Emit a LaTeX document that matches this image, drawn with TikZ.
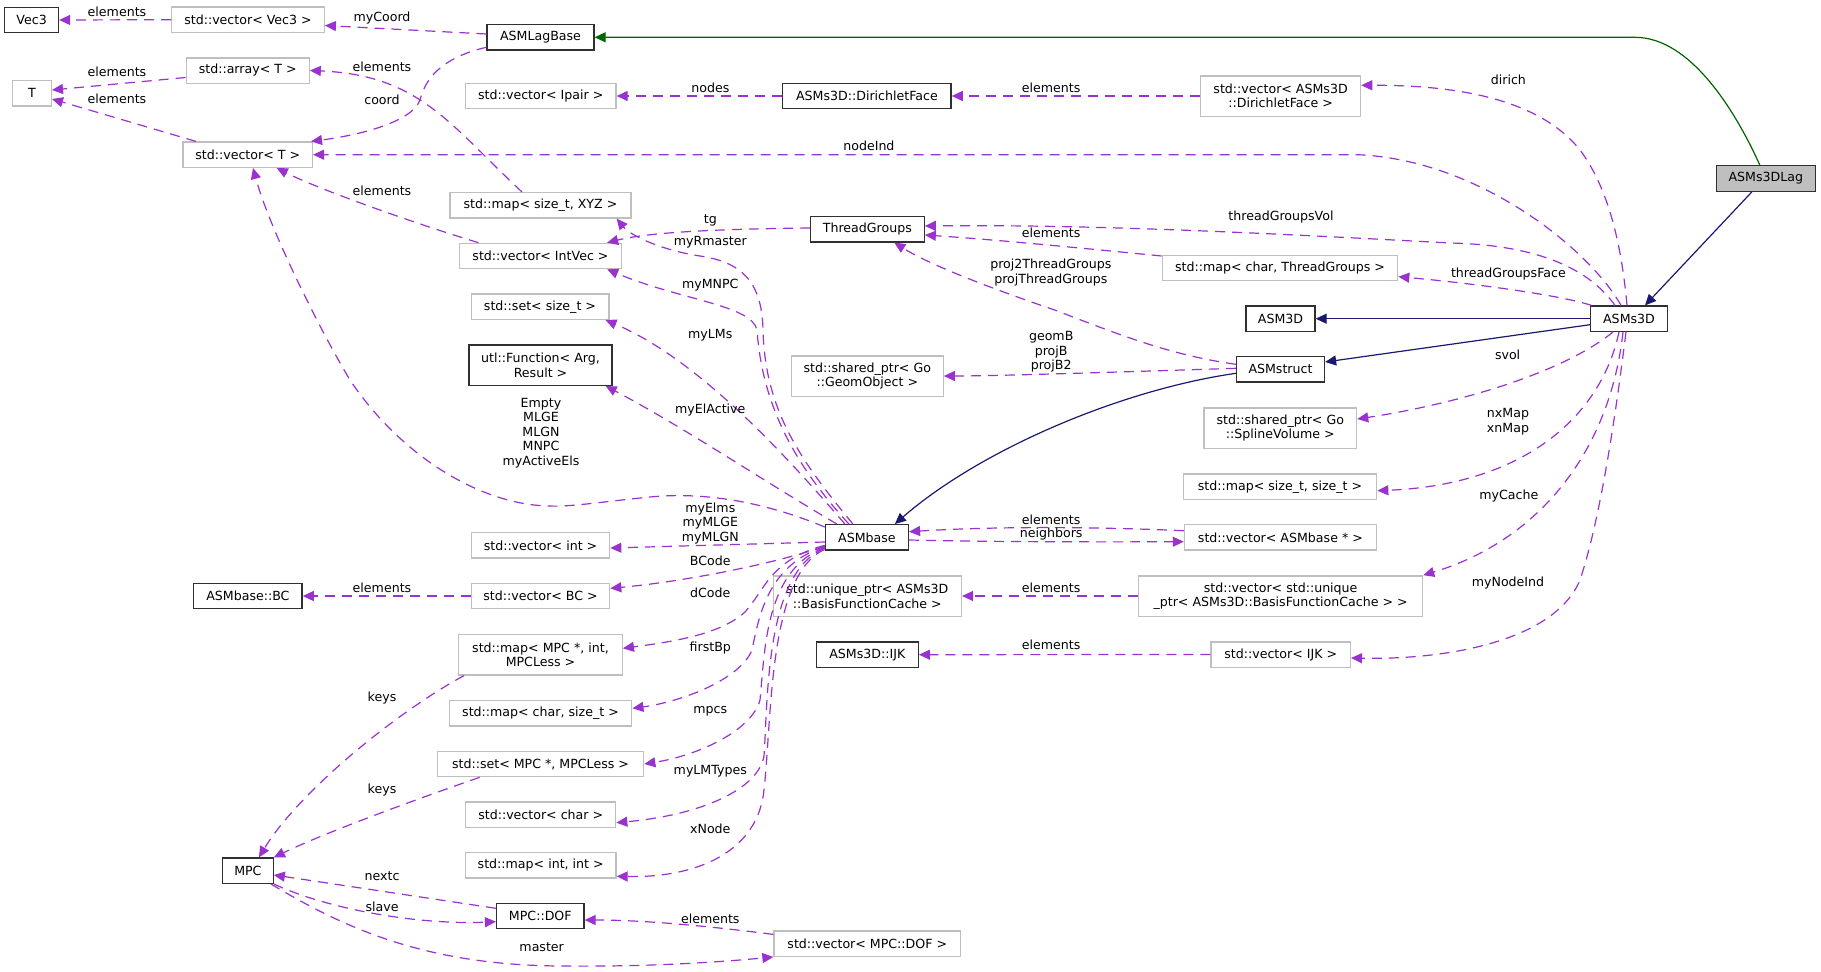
\documentclass[tikz,border=0pt]{standalone}
\usepackage{fontspec}
\setmainfont{DejaVu Sans}
\usetikzlibrary{arrows.meta}
\definecolor{purp}{HTML}{9A32CD}
\definecolor{navyc}{HTML}{191970}
\definecolor{greenc}{HTML}{006400}
\definecolor{gry}{HTML}{BFBFBF}
\definecolor{bord}{HTML}{303030}
\begin{document}
\begin{tikzpicture}[x=1pt,y=-1pt,
  every node/.style={font=\fontsize{12.6pt}{14.6pt}\selectfont, inner sep=0pt, align=center},
  bb/.style={draw=bord, line width=1.3pt, minimum height=25.3pt, fill=white},
  gb/.style={draw=gry, line width=1.3pt, minimum height=25.3pt, fill=white},
  tall/.style={minimum height=40.3pt},
  tip/.style={-{Triangle[length=11pt,width=10pt]}},
  dep/.style={draw=purp, line width=1.2pt, dash pattern=on 10pt off 7pt, tip, fill=none},
  inh/.style={draw=navyc, line width=1.2pt, tip},
  ginh/.style={draw=greenc, line width=1.2pt, tip},
  lbl/.style={}
]
\fill[white] (0,0) rectangle (1821,972);
\useasboundingbox (0,0) rectangle (1821,972);

% ---------------- nodes ----------------
\node[bb, minimum width=53.8pt] (Vec3) at (31.6,20) {Vec3};
\node[gb, minimum width=152.6pt] (vecVec3) at (248,19.7) {std::vector< Vec3 >};
\node[bb, minimum width=107pt] (ASMLagBase) at (540.5,37.3) {ASMLagBase};
\node[gb, minimum width=123pt] (array) at (247.7,70.5) {std::array< T >};
\node[gb, minimum width=38.7pt] (T) at (32,93.3) {T};
\node[gb, minimum width=129.4pt] (vecT) at (247.7,154.7) {std::vector< T >};
\node[gb, minimum width=150.6pt] (vecIpair) at (540.7,96) {std::vector< Ipair >};
\node[bb, minimum width=168.4pt] (DirichletFace) at (866.9,96) {ASMs3D::DirichletFace};
\node[gb, tall, minimum width=160pt] (vecDF) at (1280.6,96) {std::vector< ASMs3D\\::DirichletFace >};
\node[gb, minimum width=181pt] (mapXYZ) at (540.5,205.3) {std::map< size\_t, XYZ >};
\node[bb, minimum width=113.8pt] (ThreadGroups) at (867.3,229.3) {ThreadGroups};
\node[gb, minimum width=162pt] (vecIntVec) at (540.5,256) {std::vector< IntVec >};
\node[gb, minimum width=235.4pt] (mapCharTG) at (1280,268) {std::map< char, ThreadGroups >};
\node[draw=bord, line width=1.3pt, fill=gry, minimum height=25.6pt, minimum width=99pt] (ASMs3DLag) at (1765.8,178.5) {ASMs3DLag};
\node[gb, minimum width=137.7pt] (setSizeT) at (540,306.7) {std::set< size\_t >};
\node[bb, minimum width=69pt] (ASM3D) at (1280.5,318.7) {ASM3D};
\node[bb, minimum width=76.7pt] (ASMs3D) at (1629,318.7) {ASMs3D};
\node[bb, tall, minimum width=143pt] (utlFunction) at (540.5,365.2) {utl::Function< Arg,\\Result >};
\node[gb, tall, minimum width=151.8pt] (GeomObject) at (867.3,376) {std::shared\_ptr< Go\\::GeomObject >};
\node[bb, minimum width=88pt] (ASMstruct) at (1280.5,369.3) {ASMstruct};
\node[gb, tall, minimum width=152.6pt] (spline) at (1280.3,428) {std::shared\_ptr< Go\\::SplineVolume >};
\node[gb, minimum width=193.4pt] (mapSizeSize) at (1280,486.7) {std::map< size\_t, size\_t >};
\node[bb, minimum width=83pt] (ASMbase) at (866.9,537.3) {ASMbase};
\node[gb, minimum width=138.4pt] (vecInt) at (540.5,545.3) {std::vector< int >};
\node[gb, minimum width=192pt] (vecASMbase) at (1280.4,537.3) {std::vector< ASMbase * >};
\node[bb, minimum width=108.4pt] (ASMbaseBC) at (247.9,596) {ASMbase::BC};
\node[gb, minimum width=138.4pt] (vecBC) at (540.5,596) {std::vector< BC >};
\node[gb, tall, minimum width=188.2pt] (uniqueBFC) at (867.3,596) {std::unique\_ptr< ASMs3D\\::BasisFunctionCache >};
\node[gb, tall, minimum width=284pt] (vecBFC) at (1280.6,596) {std::vector< std::unique\\\_ptr< ASMs3D::BasisFunctionCache > >};
\node[gb, tall, minimum width=163.6pt] (mapMPC) at (540.5,654.8) {std::map< MPC *, int,\\MPCLess >};
\node[bb, minimum width=102pt] (IJK) at (867.3,654.7) {ASMs3D::IJK};
\node[gb, minimum width=139.3pt] (vecIJK) at (1280.7,654.5) {std::vector< IJK >};
\node[gb, minimum width=182.6pt] (mapCharSize) at (540.5,713.3) {std::map< char, size\_t >};
\node[gb, minimum width=206.4pt] (setMPC) at (540.5,764) {std::set< MPC *, MPCLess >};
\node[gb, minimum width=150pt] (vecChar) at (540.7,814.7) {std::vector< char >};
\node[gb, minimum width=150.6pt] (mapIntInt) at (540.7,865.3) {std::map< int, int >};
\node[bb, minimum width=50.6pt] (MPC) at (247.9,870.7) {MPC};
\node[bb, minimum width=87.4pt] (MPCDOF) at (540.3,916) {MPC::DOF};
\node[gb, minimum width=186.6pt] (vecDOF) at (867.3,943.7) {std::vector< MPC::DOF >};

% ---------------- inheritance ----------------
\draw[ginh] ([xshift=-6pt]ASMs3DLag.north) .. controls (1735,110) and (1690,37.3) .. (1635,37.3) -- (ASMLagBase.east);
\draw[inh] ([xshift=-14pt]ASMs3DLag.south) -- ([xshift=16pt]ASMs3D.north);
\draw[inh] (ASMs3D.west) -- (ASM3D.east);
\draw[inh] ([yshift=-6pt]ASMs3D.west) -- ([yshift=7.3pt]ASMstruct.east);
\draw[inh] ([yshift=-4pt]ASMstruct.west) .. controls (1120,390) and (980,450) .. ([xshift=28pt]ASMbase.north);

% ---------------- usage edges ----------------
\draw[dep] (vecVec3.west) -- (Vec3.east);
\draw[dep] ([yshift=3.3pt]ASMLagBase.west) -- ([yshift=-5.8pt]vecVec3.east);
\draw[dep] ([yshift=-10pt]ASMLagBase.west) .. controls (440,58) and (425,80) .. (420,100) .. controls (412,122) and (360,135) .. ([xshift=-2pt]vecT.north east);
\draw[dep] ([yshift=-7pt]array.west) -- ([yshift=3.3pt]T.east);
\draw[dep] ([xshift=-51.7pt]vecT.north) -- ([yshift=-5.7pt]T.east);
\draw[dep] ([xshift=-18.5pt]mapXYZ.north) .. controls (450,125) and (420,75) .. (array.east);
\draw[dep] ([xshift=-62pt]vecIntVec.north) .. controls (420,225) and (320,190) .. ([xshift=29pt]vecT.south);
\draw[dep] ([yshift=-3pt]ASMbase.north west) .. controls (760,500) and (700,492) .. (650,497) .. controls (600,502) and (570,507) .. (549.6,506) .. controls (480,505) and (400,455) .. (350,380) .. controls (320,330) and (270,230) .. ([xshift=5.3pt]vecT.south);
\draw[dep] ([xshift=-8pt]ASMs3D.north) .. controls (1590,250) and (1480,160) .. (1358,154.7) -- (vecT.east);
\draw[dep] ([xshift=-2pt]ASMs3D.north) .. controls (1622,250) and (1610,190) .. (1580,150) .. controls (1540,100) and (1460,85) .. ([yshift=10.7pt]vecDF.east);
\draw[dep] (vecDF.west) -- (DirichletFace.east);
\draw[dep] (DirichletFace.west) -- (vecIpair.east);
\draw[dep] ([yshift=1.3pt]ThreadGroups.west) .. controls (720,229) and (650,232) .. ([xshift=-15pt]vecIntVec.north east);
\draw[dep] ([xshift=-14pt]ASMbase.north) .. controls (800,460) and (765,410) .. (763,330) .. controls (762,280) and (740,262) .. (700,256) .. controls (660,250) and (630,235) .. ([xshift=-15pt]mapXYZ.south east);
\draw[dep] ([xshift=-18pt]ASMbase.north) .. controls (790,460) and (762,400) .. (757,330) .. controls (752,305) and (680,300) .. ([xshift=-15pt]vecIntVec.south east);
\draw[dep] ([xshift=-22pt]ASMbase.north) .. controls (790,460) and (700,360) .. ([xshift=-4pt]setSizeT.south east);
\draw[dep] ([xshift=-30pt]ASMbase.north) .. controls (770,485) and (680,425) .. ([xshift=-7pt]utlFunction.south east);
\draw[dep] ([yshift=-4.7pt]ASMbase.west) -- ([yshift=-2.7pt]vecInt.east);
\draw[dep] ([yshift=-9pt]ASMbase.west) .. controls (770,565) and (680,582) .. ([yshift=7.7pt]vecBC.east);
\draw[dep] (vecBC.west) -- (ASMbaseBC.east);
\draw[dep] ([yshift=-8pt]ASMbase.west) .. controls (770,560) and (765,590) .. (745,612) .. controls (720,635) and (670,642) .. ([yshift=6.5pt]mapMPC.east);
\draw[dep] ([yshift=-9pt]ASMbase.west) .. controls (770,565) and (760,610) .. (752,650) .. controls (740,680) and (680,702) .. ([yshift=5pt]mapCharSize.east);
\draw[dep] ([yshift=-10pt]ASMbase.west) .. controls (765,570) and (765,650) .. (760,700) .. controls (752,730) and (700,755) .. (setMPC.east);
\draw[dep] ([yshift=-11pt]ASMbase.west) .. controls (765,572) and (768,700) .. (764,756) .. controls (758,790) and (700,815) .. ([yshift=-8pt]vecChar.east);
\draw[dep] ([yshift=-12pt]ASMbase.west) .. controls (768,575) and (772,720) .. (764,790) .. controls (758,850) and (700,878) .. ([yshift=-11pt]mapIntInt.east);
\draw[dep] ([xshift=6pt]mapMPC.south west) .. controls (400,710) and (300,790) .. ([xshift=11pt]MPC.north);
\draw[dep] ([xshift=43pt]setMPC.south west) .. controls (400,805) and (320,835) .. (MPC.north east);
\draw[dep] ([yshift=7.7pt]MPCDOF.west) -- ([yshift=-4.3pt]MPC.east);
\draw[dep] (MPC.south east) .. controls (330,910) and (420,925) .. ([yshift=-5.7pt]MPCDOF.west);
\draw[dep] ([yshift=-4pt]vecDOF.north west) .. controls (700,925) and (640,920) .. ([yshift=-4pt]MPCDOF.east);
\draw[dep] ([xshift=-3pt]MPC.south east) .. controls (340,925) and (420,965) .. (560,966) .. controls (650,967) and (720,962) .. (vecDOF.south west);
\draw[dep] ([yshift=12pt]mapCharTG.west) .. controls (1080,248) and (1000,240) .. ([yshift=-5.7pt]ThreadGroups.east);
\draw[dep] ([xshift=-37.5pt]ASMs3D.north) .. controls (1560,295) and (1470,283) .. ([yshift=-8.7pt]mapCharTG.east);
\draw[dep] ([xshift=-14pt]ASMs3D.north) .. controls (1590,270) and (1540,245) .. (1450,243) .. controls (1300,235) and (1100,224) .. ([yshift=3.3pt]ThreadGroups.east);
\draw[dep] ([yshift=5pt]ASMstruct.west) .. controls (1170,355) and (1120,335) .. (1054.7,310) .. controls (990,288) and (930,265) .. ([xshift=27pt]ThreadGroups.south);
\draw[dep] ([yshift=1pt]ASMstruct.west) .. controls (1150,371) and (1000,376) .. (GeomObject.east);
\draw[dep] ([yshift=6.6pt]vecASMbase.west) .. controls (1100,527) and (1000,526) .. ([yshift=5.6pt]ASMbase.east);
\draw[dep] ([yshift=-2.7pt]ASMbase.east) .. controls (1000,542) and (1100,542) .. ([yshift=-4.4pt]vecASMbase.west);
\draw[dep] ([xshift=-6pt]ASMs3D.south) .. controls (1610,450) and (1540,540) .. (vecBFC.north east);
\draw[dep] (vecBFC.west) -- (uniqueBFC.east);
\draw[dep] (vecIJK.west) -- (IJK.east);
\draw[dep] ([xshift=-16pt]ASMs3D.south) .. controls (1560,375) and (1450,405) .. ([yshift=9pt]spline.east);
\draw[dep] ([xshift=-10pt]ASMs3D.south) .. controls (1600,420) and (1520,485) .. ([yshift=-4pt]mapSizeSize.east);
\draw[dep] ([xshift=-3pt]ASMs3D.south) .. controls (1615,420) and (1600,520) .. (1580,580) .. controls (1555,640) and (1450,660) .. ([yshift=-3.5pt]vecIJK.east);

% ---------------- labels ----------------
\node[lbl] (l1) at (117,11.7) {elements};
\node[lbl] (l2) at (382,18.3) {myCoord};
\node[lbl] (l3) at (117,72.3) {elements};
\node[lbl] (l4) at (117,99.3) {elements};
\node[lbl] (l5) at (382,66.7) {elements};
\node[lbl] (l6) at (382,100) {coord};
\node[lbl] (l7) at (382,190.7) {elements};
\node[lbl] (l8) at (710.3,87.7) {nodes};
\node[lbl] (l9) at (1051.2,87.7) {elements};
\node[lbl] (l10) at (868.9,146) {nodeInd};
\node[lbl] (l11) at (1508.4,80.3) {dirich};
\node[lbl] (l12) at (710.3,220.7) {tg};
\node[lbl] (l13) at (710.3,242.7) {myRmaster};
\node[lbl] (l14) at (1051.2,232.7) {elements};
\node[lbl] (l15) at (1281,216.7) {threadGroupsVol};
\node[lbl] (l16) at (1050.8,272.5) {proj2ThreadGroups\\projThreadGroups};
\node[lbl] (l17) at (710.3,285) {myMNPC};
\node[lbl] (l18) at (1508.4,274.3) {threadGroupsFace};
\node[lbl] (l19) at (710.3,335.7) {myLMs};
\node[lbl] (l20) at (1051.2,351.8) {geomB\\projB\\projB2};
\node[lbl] (l21) at (1507.6,355) {svol};
\node[lbl] (l22) at (710.3,410.3) {myElActive};
\node[lbl] (l23) at (541,433) {Empty\\MLGE\\MLGN\\MNPC\\myActiveEls};
\node[lbl] (l24) at (1508,421.7) {nxMap\\xnMap};
\node[lbl] (l25) at (1508.8,495.7) {myCache};
\node[lbl] (l26) at (710.3,523.5) {myElms\\myMLGE\\myMLGN};
\node[lbl] (l27) at (1051.2,519.3) {elements};
\node[lbl] (l28) at (1051.2,534.3) {neighbors};
\node[lbl] (l29) at (710.3,560.3) {BCode};
\node[lbl] (l30) at (382,587.3) {elements};
\node[lbl] (l31) at (710.3,592.3) {dCode};
\node[lbl] (l32) at (1051.2,587.3) {elements};
\node[lbl] (l33) at (1508,583.3) {myNodeInd};
\node[lbl] (l34) at (1051.2,645) {elements};
\node[lbl] (l35) at (710.3,648.3) {firstBp};
\node[lbl] (l36) at (382,698.3) {keys};
\node[lbl] (l37) at (710.3,711.7) {mpcs};
\node[lbl] (l38) at (710.3,771.7) {myLMTypes};
\node[lbl] (l39) at (382,790.3) {keys};
\node[lbl] (l40) at (710.3,828.3) {xNode};
\node[lbl] (l41) at (382,876.3) {nextc};
\node[lbl] (l42) at (382,907) {slave};
\node[lbl] (l43) at (710.3,918.3) {elements};
\node[lbl] (l44) at (541.7,947) {master};
\end{tikzpicture}
\end{document}
